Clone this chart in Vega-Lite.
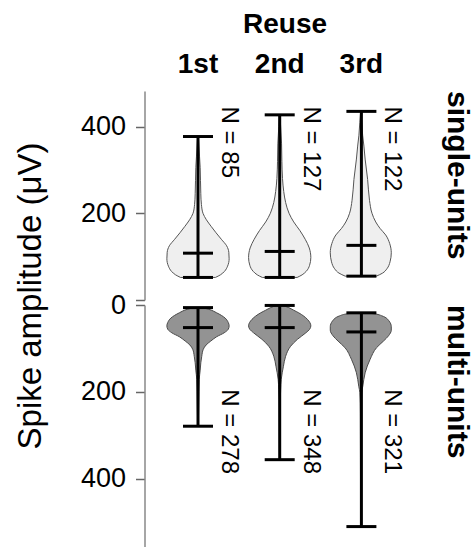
{
  "$schema": "https://vega.github.io/schema/vega-lite/v6.json",
  "padding": {"left": 14, "top": 11, "right": 15, "bottom": 0},
  "config": {
    "font": "Liberation Sans",
    "view": {"stroke": null},
    "axisY": {"grid": false, "domainColor": "#888888", "domainWidth": 1.5, "tickColor": "#666666", "tickWidth": 1.5, "tickSize": 9, "labelFontSize": 27, "labelColor": "#000000", "labelPadding": 10},
    "header": {"labelFont": "Liberation Sans", "titleFont": "Liberation Sans", "labelColor": "#000000", "titleColor": "#000000"}
  },
  "title": {"text": "Spike amplitude (μV)", "orient": "left", "anchor": "middle", "fontSize": 33, "fontWeight": "normal", "color": "#000000", "offset": 32.7, "dx": -17},
  "datasets": {
    "single": [
      {"part": "v", "type": "single-units", "reuse": "1st", "amp": 52, "w": 0.56},
      {"part": "v", "type": "single-units", "reuse": "1st", "amp": 58, "w": 0.72},
      {"part": "v", "type": "single-units", "reuse": "1st", "amp": 66, "w": 0.85},
      {"part": "v", "type": "single-units", "reuse": "1st", "amp": 78, "w": 0.95},
      {"part": "v", "type": "single-units", "reuse": "1st", "amp": 95, "w": 1.0},
      {"part": "v", "type": "single-units", "reuse": "1st", "amp": 110, "w": 0.99},
      {"part": "v", "type": "single-units", "reuse": "1st", "amp": 125, "w": 0.92},
      {"part": "v", "type": "single-units", "reuse": "1st", "amp": 140, "w": 0.75},
      {"part": "v", "type": "single-units", "reuse": "1st", "amp": 155, "w": 0.58},
      {"part": "v", "type": "single-units", "reuse": "1st", "amp": 170, "w": 0.42},
      {"part": "v", "type": "single-units", "reuse": "1st", "amp": 185, "w": 0.27},
      {"part": "v", "type": "single-units", "reuse": "1st", "amp": 200, "w": 0.16},
      {"part": "v", "type": "single-units", "reuse": "1st", "amp": 220, "w": 0.11},
      {"part": "v", "type": "single-units", "reuse": "1st", "amp": 245, "w": 0.09},
      {"part": "v", "type": "single-units", "reuse": "1st", "amp": 275, "w": 0.08},
      {"part": "v", "type": "single-units", "reuse": "1st", "amp": 305, "w": 0.07},
      {"part": "v", "type": "single-units", "reuse": "1st", "amp": 330, "w": 0.05},
      {"part": "v", "type": "single-units", "reuse": "1st", "amp": 355, "w": 0.03},
      {"part": "v", "type": "single-units", "reuse": "1st", "amp": 377, "w": 0.01},
      {"part": "v", "type": "single-units", "reuse": "2nd", "amp": 52, "w": 0.56},
      {"part": "v", "type": "single-units", "reuse": "2nd", "amp": 58, "w": 0.72},
      {"part": "v", "type": "single-units", "reuse": "2nd", "amp": 66, "w": 0.85},
      {"part": "v", "type": "single-units", "reuse": "2nd", "amp": 80, "w": 0.96},
      {"part": "v", "type": "single-units", "reuse": "2nd", "amp": 98, "w": 1.0},
      {"part": "v", "type": "single-units", "reuse": "2nd", "amp": 120, "w": 0.95},
      {"part": "v", "type": "single-units", "reuse": "2nd", "amp": 140, "w": 0.82},
      {"part": "v", "type": "single-units", "reuse": "2nd", "amp": 160, "w": 0.65},
      {"part": "v", "type": "single-units", "reuse": "2nd", "amp": 180, "w": 0.45},
      {"part": "v", "type": "single-units", "reuse": "2nd", "amp": 200, "w": 0.3},
      {"part": "v", "type": "single-units", "reuse": "2nd", "amp": 225, "w": 0.19},
      {"part": "v", "type": "single-units", "reuse": "2nd", "amp": 250, "w": 0.13},
      {"part": "v", "type": "single-units", "reuse": "2nd", "amp": 280, "w": 0.09},
      {"part": "v", "type": "single-units", "reuse": "2nd", "amp": 320, "w": 0.07},
      {"part": "v", "type": "single-units", "reuse": "2nd", "amp": 360, "w": 0.06},
      {"part": "v", "type": "single-units", "reuse": "2nd", "amp": 400, "w": 0.03},
      {"part": "v", "type": "single-units", "reuse": "2nd", "amp": 427, "w": 0.01},
      {"part": "v", "type": "single-units", "reuse": "3rd", "amp": 55, "w": 0.5},
      {"part": "v", "type": "single-units", "reuse": "3rd", "amp": 62, "w": 0.7},
      {"part": "v", "type": "single-units", "reuse": "3rd", "amp": 72, "w": 0.84},
      {"part": "v", "type": "single-units", "reuse": "3rd", "amp": 88, "w": 0.94},
      {"part": "v", "type": "single-units", "reuse": "3rd", "amp": 109, "w": 0.98},
      {"part": "v", "type": "single-units", "reuse": "3rd", "amp": 130, "w": 0.93},
      {"part": "v", "type": "single-units", "reuse": "3rd", "amp": 150, "w": 0.8},
      {"part": "v", "type": "single-units", "reuse": "3rd", "amp": 165, "w": 0.62},
      {"part": "v", "type": "single-units", "reuse": "3rd", "amp": 180, "w": 0.48},
      {"part": "v", "type": "single-units", "reuse": "3rd", "amp": 200, "w": 0.36},
      {"part": "v", "type": "single-units", "reuse": "3rd", "amp": 230, "w": 0.28},
      {"part": "v", "type": "single-units", "reuse": "3rd", "amp": 278, "w": 0.22},
      {"part": "v", "type": "single-units", "reuse": "3rd", "amp": 325, "w": 0.14},
      {"part": "v", "type": "single-units", "reuse": "3rd", "amp": 355, "w": 0.1},
      {"part": "v", "type": "single-units", "reuse": "3rd", "amp": 380, "w": 0.06},
      {"part": "v", "type": "single-units", "reuse": "3rd", "amp": 410, "w": 0.03},
      {"part": "v", "type": "single-units", "reuse": "3rd", "amp": 435, "w": 0.005},
      {"part": "s", "type": "single-units", "reuse": "1st", "min": 52, "max": 377, "mean": 108, "label": "N = 85"},
      {"part": "s", "type": "single-units", "reuse": "2nd", "min": 52, "max": 427, "mean": 112, "label": "N = 127"},
      {"part": "s", "type": "single-units", "reuse": "3rd", "min": 55, "max": 435, "mean": 126, "label": "N = 122"}
    ],
    "multi": [
      {"part": "v", "type": "multi-units", "reuse": "1st", "amp": 6, "w": 0.13},
      {"part": "v", "type": "multi-units", "reuse": "1st", "amp": 10, "w": 0.35},
      {"part": "v", "type": "multi-units", "reuse": "1st", "amp": 18, "w": 0.6},
      {"part": "v", "type": "multi-units", "reuse": "1st", "amp": 30, "w": 0.87},
      {"part": "v", "type": "multi-units", "reuse": "1st", "amp": 40, "w": 0.97},
      {"part": "v", "type": "multi-units", "reuse": "1st", "amp": 48, "w": 1.0},
      {"part": "v", "type": "multi-units", "reuse": "1st", "amp": 56, "w": 0.97},
      {"part": "v", "type": "multi-units", "reuse": "1st", "amp": 64, "w": 0.84},
      {"part": "v", "type": "multi-units", "reuse": "1st", "amp": 73, "w": 0.6},
      {"part": "v", "type": "multi-units", "reuse": "1st", "amp": 83, "w": 0.41},
      {"part": "v", "type": "multi-units", "reuse": "1st", "amp": 92, "w": 0.26},
      {"part": "v", "type": "multi-units", "reuse": "1st", "amp": 102, "w": 0.17},
      {"part": "v", "type": "multi-units", "reuse": "1st", "amp": 118, "w": 0.12},
      {"part": "v", "type": "multi-units", "reuse": "1st", "amp": 133, "w": 0.09},
      {"part": "v", "type": "multi-units", "reuse": "1st", "amp": 150, "w": 0.07},
      {"part": "v", "type": "multi-units", "reuse": "1st", "amp": 171, "w": 0.04},
      {"part": "v", "type": "multi-units", "reuse": "1st", "amp": 200, "w": 0.03},
      {"part": "v", "type": "multi-units", "reuse": "1st", "amp": 240, "w": 0.02},
      {"part": "v", "type": "multi-units", "reuse": "1st", "amp": 279, "w": 0.01},
      {"part": "v", "type": "multi-units", "reuse": "2nd", "amp": 1, "w": 0.1},
      {"part": "v", "type": "multi-units", "reuse": "2nd", "amp": 6, "w": 0.29},
      {"part": "v", "type": "multi-units", "reuse": "2nd", "amp": 12, "w": 0.45},
      {"part": "v", "type": "multi-units", "reuse": "2nd", "amp": 18, "w": 0.61},
      {"part": "v", "type": "multi-units", "reuse": "2nd", "amp": 33, "w": 0.89},
      {"part": "v", "type": "multi-units", "reuse": "2nd", "amp": 48, "w": 1.0},
      {"part": "v", "type": "multi-units", "reuse": "2nd", "amp": 56, "w": 0.96},
      {"part": "v", "type": "multi-units", "reuse": "2nd", "amp": 64, "w": 0.84},
      {"part": "v", "type": "multi-units", "reuse": "2nd", "amp": 79, "w": 0.57},
      {"part": "v", "type": "multi-units", "reuse": "2nd", "amp": 95, "w": 0.35},
      {"part": "v", "type": "multi-units", "reuse": "2nd", "amp": 118, "w": 0.19},
      {"part": "v", "type": "multi-units", "reuse": "2nd", "amp": 141, "w": 0.12},
      {"part": "v", "type": "multi-units", "reuse": "2nd", "amp": 171, "w": 0.05},
      {"part": "v", "type": "multi-units", "reuse": "2nd", "amp": 195, "w": 0.03},
      {"part": "v", "type": "multi-units", "reuse": "2nd", "amp": 240, "w": 0.015},
      {"part": "v", "type": "multi-units", "reuse": "2nd", "amp": 300, "w": 0.01},
      {"part": "v", "type": "multi-units", "reuse": "2nd", "amp": 356, "w": 0.005},
      {"part": "v", "type": "multi-units", "reuse": "3rd", "amp": 18, "w": 0.1},
      {"part": "v", "type": "multi-units", "reuse": "3rd", "amp": 20, "w": 0.4},
      {"part": "v", "type": "multi-units", "reuse": "3rd", "amp": 25, "w": 0.68},
      {"part": "v", "type": "multi-units", "reuse": "3rd", "amp": 37, "w": 0.91},
      {"part": "v", "type": "multi-units", "reuse": "3rd", "amp": 50, "w": 0.98},
      {"part": "v", "type": "multi-units", "reuse": "3rd", "amp": 58, "w": 0.98},
      {"part": "v", "type": "multi-units", "reuse": "3rd", "amp": 71, "w": 0.89},
      {"part": "v", "type": "multi-units", "reuse": "3rd", "amp": 83, "w": 0.73},
      {"part": "v", "type": "multi-units", "reuse": "3rd", "amp": 98, "w": 0.51},
      {"part": "v", "type": "multi-units", "reuse": "3rd", "amp": 125, "w": 0.3},
      {"part": "v", "type": "multi-units", "reuse": "3rd", "amp": 156, "w": 0.14},
      {"part": "v", "type": "multi-units", "reuse": "3rd", "amp": 187, "w": 0.065},
      {"part": "v", "type": "multi-units", "reuse": "3rd", "amp": 202, "w": 0.03},
      {"part": "v", "type": "multi-units", "reuse": "3rd", "amp": 250, "w": 0.015},
      {"part": "v", "type": "multi-units", "reuse": "3rd", "amp": 350, "w": 0.01},
      {"part": "v", "type": "multi-units", "reuse": "3rd", "amp": 510, "w": 0.005},
      {"part": "s", "type": "multi-units", "reuse": "1st", "min": 6, "max": 279, "mean": 52, "label": "N = 278"},
      {"part": "s", "type": "multi-units", "reuse": "2nd", "min": 1, "max": 356, "mean": 52, "label": "N = 348"},
      {"part": "s", "type": "multi-units", "reuse": "3rd", "min": 18, "max": 510, "mean": 62, "label": "N = 321"}
    ]
  },
  "vconcat": [
    {
      "data": {"name": "single"},
      "bounds": "flush",
      "facet": {
        "row": {"field": "type", "type": "nominal", "header": {"title": null, "labelOrient": "right", "labelAngle": 90, "labelFontSize": 30, "labelFontWeight": "bold", "labelAnchor": "start", "labelBaseline": "alphabetic", "labelPadding": 23}},
        "column": {"field": "reuse", "type": "nominal", "header": {"title": "Reuse", "titleFontSize": 28, "titleFontWeight": "bold", "titlePadding": 2, "labelFontSize": 28, "labelFontWeight": "bold", "labelPadding": 12}}
      },
      "spacing": {"row": 0, "column": 15.7},
      "spec": {
        "width": 66,
        "height": 209,
        "layer": [
          {
            "transform": [{"filter": "datum.part === 'v'"}],
            "mark": {"type": "area", "orient": "horizontal", "interpolate": "monotone", "fill": "#efefef", "stroke": "#555555", "strokeWidth": 1},
            "encoding": {
              "y": {"field": "amp", "type": "quantitative", "title": null, "scale": {"domain": [0, 482], "nice": false, "zero": false}, "axis": {"values": [0, 200, 400], "offset": 20.5, "labelExpr": "datum.value === 0 ? '' : datum.label"}},
              "x": {"field": "w", "type": "quantitative", "stack": "center", "scale": {"domain": [-0.03, 1.03], "nice": false, "zero": false}, "axis": null}
            }
          },
          {
            "transform": [{"filter": "datum.part === 's'"}],
            "mark": {"type": "rule", "color": "#000000", "strokeWidth": 3},
            "encoding": {
              "x": {"datum": 0.5, "type": "quantitative"},
              "y": {"field": "min", "type": "quantitative", "title": null},
              "y2": {"field": "max"}
            }
          },
          {
            "transform": [{"filter": "datum.part === 's'"}],
            "mark": {"type": "tick", "orient": "horizontal", "color": "#000000", "size": 30, "thickness": 3, "opacity": 1},
            "encoding": {"x": {"datum": 0.5, "type": "quantitative"}, "y": {"field": "min", "type": "quantitative", "title": null}}
          },
          {
            "transform": [{"filter": "datum.part === 's'"}],
            "mark": {"type": "tick", "orient": "horizontal", "color": "#000000", "size": 30, "thickness": 3, "opacity": 1},
            "encoding": {"x": {"datum": 0.5, "type": "quantitative"}, "y": {"field": "max", "type": "quantitative", "title": null}}
          },
          {
            "transform": [{"filter": "datum.part === 's'"}],
            "mark": {"type": "tick", "orient": "horizontal", "color": "#000000", "size": 30, "thickness": 3, "opacity": 1},
            "encoding": {"x": {"datum": 0.5, "type": "quantitative"}, "y": {"field": "mean", "type": "quantitative", "title": null}}
          },
          {
            "transform": [{"filter": "datum.part === 's'"}],
            "mark": {"type": "text", "angle": 90, "align": "left", "baseline": "middle", "fontSize": 24, "color": "#000000", "dy": -31},
            "encoding": {
              "x": {"datum": 0.5, "type": "quantitative"},
              "y": {"datum": 446, "type": "quantitative"},
              "text": {"field": "label"}
            }
          }
        ]
      }
    },
    {
      "data": {"name": "multi"},
      "bounds": "flush",
      "facet": {
        "row": {"field": "type", "type": "nominal", "header": {"title": null, "labelOrient": "right", "labelAngle": 90, "labelFontSize": 30, "labelFontWeight": "bold", "labelAnchor": "start", "labelBaseline": "alphabetic", "labelPadding": 23}},
        "column": {"field": "reuse", "type": "nominal", "header": {"title": null, "labels": false}}
      },
      "spacing": {"row": 0, "column": 15.7},
      "spec": {
        "width": 66,
        "height": 242,
        "layer": [
          {
            "transform": [{"filter": "datum.part === 'v'"}],
            "mark": {"type": "area", "orient": "horizontal", "interpolate": "monotone", "fill": "#939393", "stroke": "#4a4a4a", "strokeWidth": 1},
            "encoding": {
              "y": {"field": "amp", "type": "quantitative", "title": null, "scale": {"domain": [0, 557], "nice": false, "zero": false, "reverse": true}, "axis": {"values": [0, 200, 400], "offset": 20.5}},
              "x": {"field": "w", "type": "quantitative", "stack": "center", "scale": {"domain": [-0.03, 1.03], "nice": false, "zero": false}, "axis": null}
            }
          },
          {
            "transform": [{"filter": "datum.part === 's'"}],
            "mark": {"type": "rule", "color": "#000000", "strokeWidth": 3},
            "encoding": {
              "x": {"datum": 0.5, "type": "quantitative"},
              "y": {"field": "min", "type": "quantitative", "title": null},
              "y2": {"field": "max"}
            }
          },
          {
            "transform": [{"filter": "datum.part === 's'"}],
            "mark": {"type": "tick", "orient": "horizontal", "color": "#000000", "size": 30, "thickness": 3, "opacity": 1},
            "encoding": {"x": {"datum": 0.5, "type": "quantitative"}, "y": {"field": "min", "type": "quantitative", "title": null}}
          },
          {
            "transform": [{"filter": "datum.part === 's'"}],
            "mark": {"type": "tick", "orient": "horizontal", "color": "#000000", "size": 30, "thickness": 3, "opacity": 1},
            "encoding": {"x": {"datum": 0.5, "type": "quantitative"}, "y": {"field": "max", "type": "quantitative", "title": null}}
          },
          {
            "transform": [{"filter": "datum.part === 's'"}],
            "mark": {"type": "tick", "orient": "horizontal", "color": "#000000", "size": 30, "thickness": 3, "opacity": 1},
            "encoding": {"x": {"datum": 0.5, "type": "quantitative"}, "y": {"field": "mean", "type": "quantitative", "title": null}}
          },
          {
            "transform": [{"filter": "datum.part === 's'"}],
            "mark": {"type": "text", "angle": 90, "align": "left", "baseline": "middle", "fontSize": 24, "color": "#000000", "dy": -31},
            "encoding": {
              "x": {"datum": 0.5, "type": "quantitative"},
              "y": {"datum": 194, "type": "quantitative"},
              "text": {"field": "label"}
            }
          }
        ]
      }
    }
  ],
  "spacing": -10
}
